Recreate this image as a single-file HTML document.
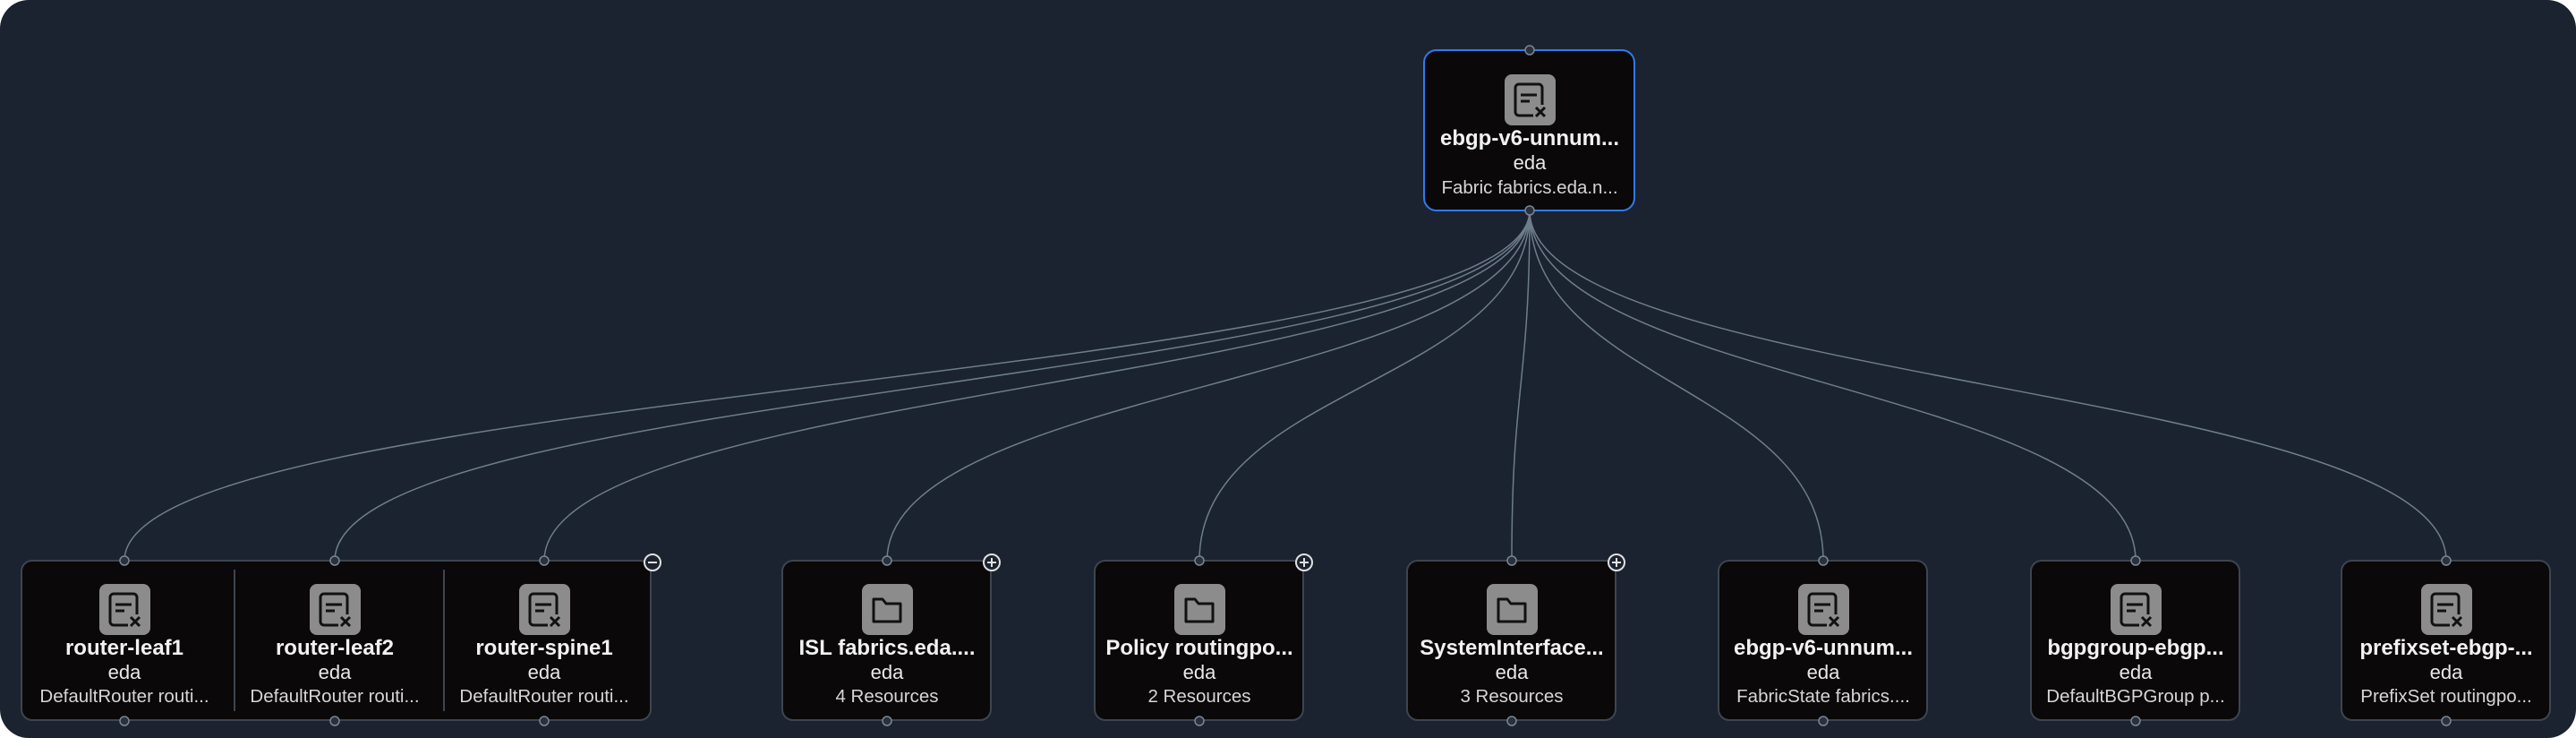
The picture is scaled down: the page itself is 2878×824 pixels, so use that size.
<!DOCTYPE html>
<html><head><meta charset="utf-8"><style>
html,body{margin:0;padding:0;background:#fff;}
svg{display:block;}
text{font-family:"Liberation Sans",sans-serif;fill:#e8e8e8;text-anchor:middle;}
.t{font-weight:bold;font-size:24px;fill:#f2f2f2;}
.e{font-size:22px;}
.s{font-size:20.5px;fill:#d6d6d6;}
</style></head><body>
<svg width="2878" height="824" viewBox="0 0 2878 824" xmlns="http://www.w3.org/2000/svg">
<defs>
<g id="ic">
<rect x="-28" y="0" width="57" height="57" rx="8" fill="#8c8c8c"/>
<rect x="-16" y="11" width="30" height="35" rx="4" fill="none" stroke="#111" stroke-width="3"/>
<line x1="-10" y1="23" x2="8" y2="23" stroke="#111" stroke-width="3"/>
<line x1="-10" y1="30" x2="0" y2="30" stroke="#111" stroke-width="3"/>
<rect x="4" y="34" width="16" height="16" fill="#8c8c8c"/>
<path d="M7 37 L17 47 M17 37 L7 47" stroke="#111" stroke-width="3"/>
</g>
<g id="fo">
<rect x="-28" y="0" width="57" height="57" rx="8" fill="#8c8c8c"/>
<path d="M-15 17 h10 l4 5 h16 v20 h-30 z" fill="none" stroke="#111" stroke-width="3" stroke-linejoin="round"/>
</g>
</defs>
<rect x="0" y="0" width="2878" height="824" rx="32" fill="#1b2330"/>
<g fill="none" stroke="#6e7d8c" stroke-width="1.5">
<path d="M1709 235 C1709 430,139 430,139 626"/>
<path d="M1709 235 C1709 430,374 430,374 626"/>
<path d="M1709 235 C1709 430,608 430,608 626"/>
<path d="M1709 235 C1709 430,991 430,991 626"/>
<path d="M1709 235 C1709 430,1340 430,1340 626"/>
<path d="M1709 235 C1709 430,1689 430,1689 626"/>
<path d="M1709 235 C1709 430,2037 430,2037 626"/>
<path d="M1709 235 C1709 430,2386 430,2386 626"/>
<path d="M1709 235 C1709 430,2733 430,2733 626"/>
</g>
<rect x="1591" y="56" width="235" height="179" rx="14" fill="#0a0808" stroke="#2f7bf0" stroke-width="2"/>
<use href="#ic" x="1709" y="83"/>
<text class="t" x="1709" y="162">ebgp-v6-unnum...</text>
<text class="e" x="1709" y="189">eda</text>
<text class="s" x="1709" y="216">Fabric fabrics.eda.n...</text>
<rect x="24" y="626" width="703" height="178" rx="12" fill="#0a0808" stroke="#3d4550" stroke-width="2"/>
<line x1="262" y1="636" x2="262" y2="794" stroke="#3d4550" stroke-width="2"/>
<line x1="496" y1="636" x2="496" y2="794" stroke="#3d4550" stroke-width="2"/>
<use href="#ic" x="139" y="652"/><use href="#ic" x="374" y="652"/><use href="#ic" x="608" y="652"/>
<text class="t" x="139" y="731">router-leaf1</text><text class="e" x="139" y="758">eda</text><text class="s" x="139" y="784">DefaultRouter routi...</text>
<text class="t" x="374" y="731">router-leaf2</text><text class="e" x="374" y="758">eda</text><text class="s" x="374" y="784">DefaultRouter routi...</text>
<text class="t" x="608" y="731">router-spine1</text><text class="e" x="608" y="758">eda</text><text class="s" x="608" y="784">DefaultRouter routi...</text>
<g fill="#0a0808" stroke="#3d4550" stroke-width="2">
<rect x="874" y="626" width="233" height="178" rx="12"/>
<rect x="1223" y="626" width="233" height="178" rx="12"/>
<rect x="1572" y="626" width="233" height="178" rx="12"/>
<rect x="1920" y="626" width="233" height="178" rx="12"/>
<rect x="2269" y="626" width="233" height="178" rx="12"/>
<rect x="2616" y="626" width="233" height="178" rx="12"/>
</g>
<use href="#fo" x="991" y="652"/><use href="#fo" x="1340" y="652"/><use href="#fo" x="1689" y="652"/>
<use href="#ic" x="2037" y="652"/><use href="#ic" x="2386" y="652"/><use href="#ic" x="2733" y="652"/>
<text class="t" x="991" y="731">ISL fabrics.eda....</text><text class="e" x="991" y="758">eda</text><text class="s" x="991" y="784">4 Resources</text>
<text class="t" x="1340" y="731">Policy routingpo...</text><text class="e" x="1340" y="758">eda</text><text class="s" x="1340" y="784">2 Resources</text>
<text class="t" x="1689" y="731">SystemInterface...</text><text class="e" x="1689" y="758">eda</text><text class="s" x="1689" y="784">3 Resources</text>
<text class="t" x="2037" y="731">ebgp-v6-unnum...</text><text class="e" x="2037" y="758">eda</text><text class="s" x="2037" y="784">FabricState fabrics....</text>
<text class="t" x="2386" y="731">bgpgroup-ebgp...</text><text class="e" x="2386" y="758">eda</text><text class="s" x="2386" y="784">DefaultBGPGroup p...</text>
<text class="t" x="2733" y="731">prefixset-ebgp-...</text><text class="e" x="2733" y="758">eda</text><text class="s" x="2733" y="784">PrefixSet routingpo...</text>
<g fill="#2a313c" stroke="#7a8694" stroke-width="1.5">
<circle cx="1709" cy="56" r="5"/><circle cx="1709" cy="235" r="5"/>
<circle cx="139" cy="626" r="5"/><circle cx="374" cy="626" r="5"/><circle cx="608" cy="626" r="5"/>
<circle cx="139" cy="805" r="5"/><circle cx="374" cy="805" r="5"/><circle cx="608" cy="805" r="5"/>
<circle cx="991" cy="626" r="5"/><circle cx="1340" cy="626" r="5"/><circle cx="1689" cy="626" r="5"/>
<circle cx="2037" cy="626" r="5"/><circle cx="2386" cy="626" r="5"/><circle cx="2733" cy="626" r="5"/>
<circle cx="991" cy="805" r="5"/><circle cx="1340" cy="805" r="5"/><circle cx="1689" cy="805" r="5"/>
<circle cx="2037" cy="805" r="5"/><circle cx="2386" cy="805" r="5"/><circle cx="2733" cy="805" r="5"/>
</g>
<g fill="#1b2330" stroke="#e0e0e0" stroke-width="2">
<circle cx="729" cy="628" r="9"/><circle cx="1108" cy="628" r="9"/><circle cx="1457" cy="628" r="9"/><circle cx="1806" cy="628" r="9"/>
</g>
<g stroke="#e0e0e0" stroke-width="2">
<line x1="724" y1="628" x2="734" y2="628"/>
<line x1="1103" y1="628" x2="1113" y2="628"/><line x1="1108" y1="623" x2="1108" y2="633"/>
<line x1="1452" y1="628" x2="1462" y2="628"/><line x1="1457" y1="623" x2="1457" y2="633"/>
<line x1="1801" y1="628" x2="1811" y2="628"/><line x1="1806" y1="623" x2="1806" y2="633"/>
</g>
</svg>
</body></html>
